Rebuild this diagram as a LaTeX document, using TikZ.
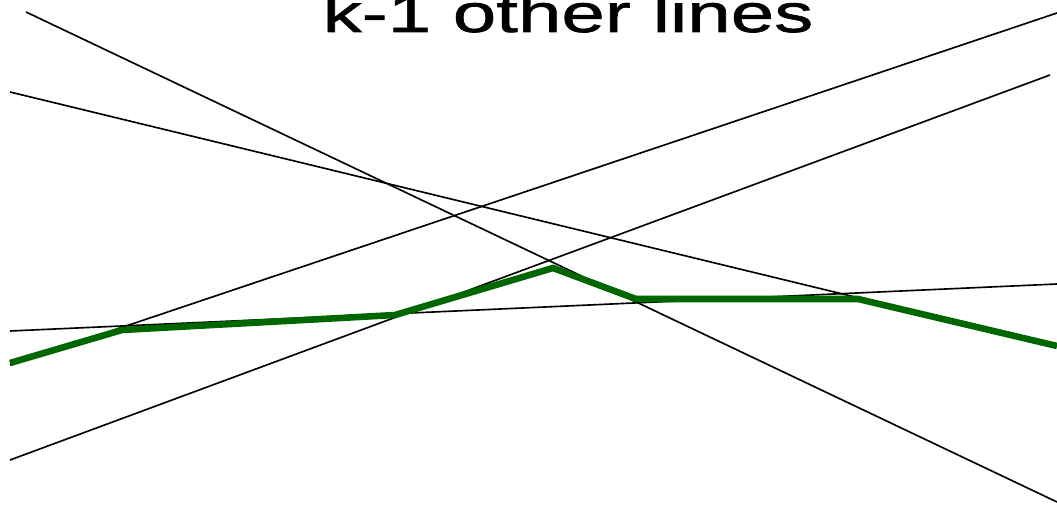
\documentclass[tikz,border=0pt]{standalone}
\usepackage{fontspec}
\setmainfont{Liberation Sans}
\newfontfamily\titlefont[FakeStretch=1.45,FakeBold=1.2]{Liberation Sans}
\usetikzlibrary{positioning}
\definecolor{levelgreen}{RGB}{0,102,0}

\begin{document}
\begin{tikzpicture}[
  x=0.03cm, y=-0.03cm,
  line/.style={draw=black, line width=1.4pt},
  level/.style={draw=levelgreen, line width=5.6pt, line join=miter},
  title/.style={font=\titlefont\fontsize{46}{50}\selectfont, anchor=base, inner sep=0pt}
]
  \useasboundingbox (0,0) rectangle (1057,509);
  \clip (0,0) rectangle (1057,509);

  % end points of the other lines
  \coordinate (a1) at (26,12);   \coordinate (a2) at (1057,502);
  \coordinate (b1) at (10,92);   \coordinate (b2) at (1057,346);
  \coordinate (c1) at (10,331);  \coordinate (c2) at (1057,284);
  \coordinate (d1) at (10,365);  \coordinate (d2) at (1057,13);
  \coordinate (e1) at (10,460);  \coordinate (e2) at (1050,75);

  \foreach \l in {a,b,c,d,e}
    \draw[line] (\l1) -- (\l2);

  % the level
  \coordinate (v1) at (122,330);
  \coordinate (v2) at (395,315);
  \coordinate (v3) at (553,268);
  \coordinate (v4) at (636,299);
  \coordinate (v5) at (858,299);
  \draw[level] (10,363) -- (v1) -- (v2) -- (v3) -- (v4) -- (v5) -- (b2);

  \node[title] (label) at (568,32) {k-1 other lines};
\end{tikzpicture}
\end{document}
